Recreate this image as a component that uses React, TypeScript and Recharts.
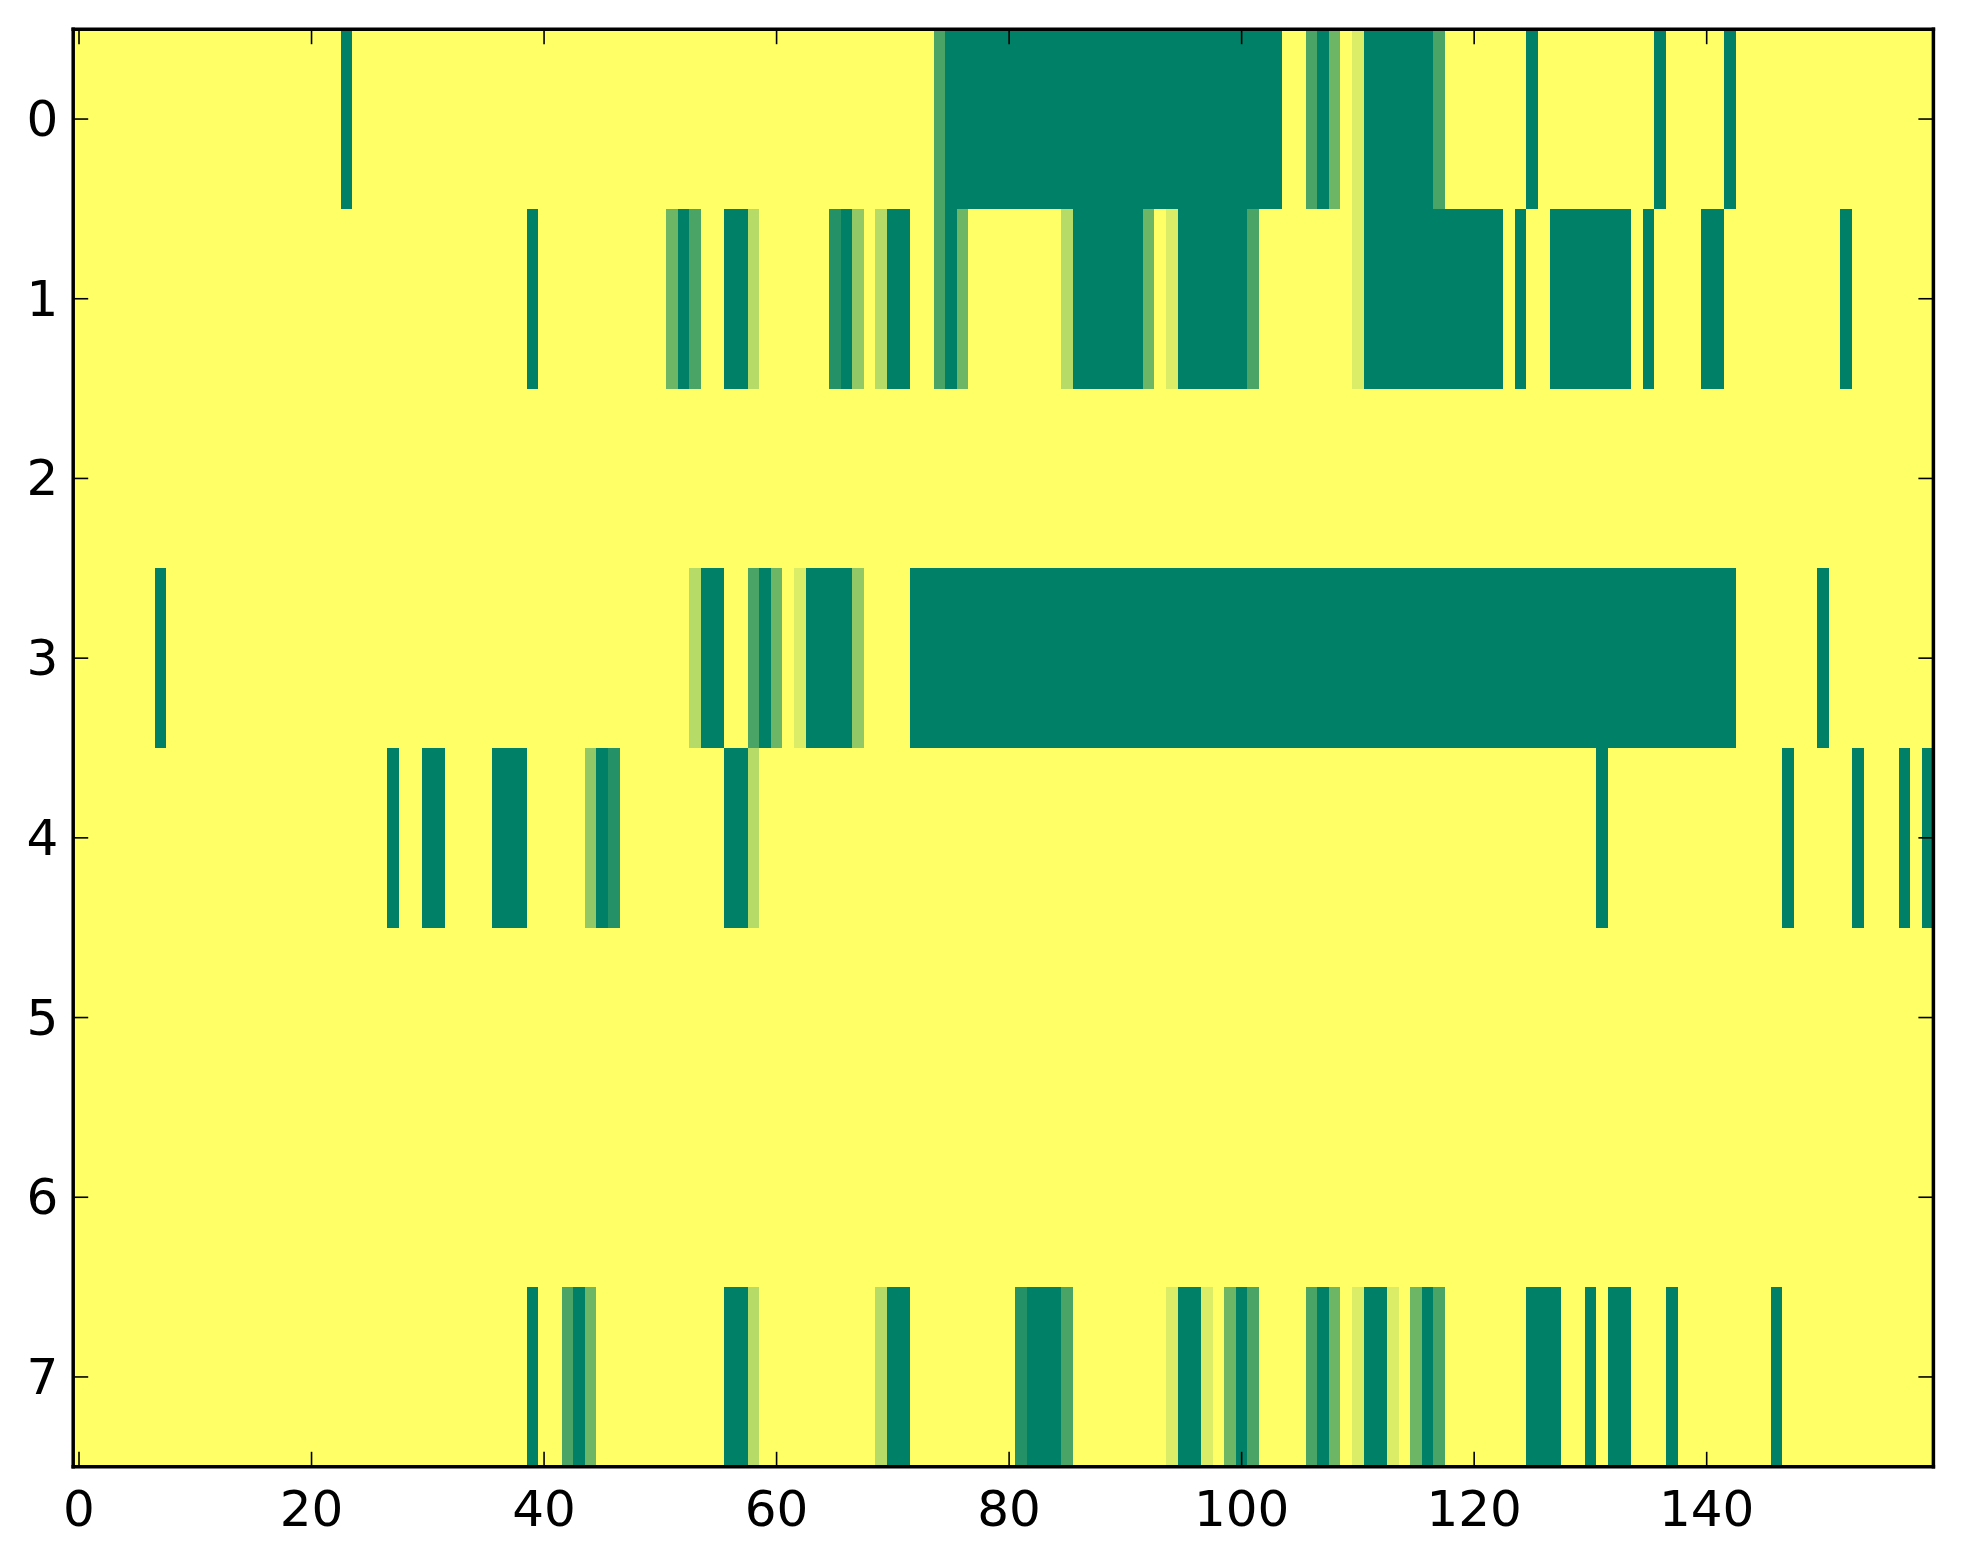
import React from "react";
import { ScatterChart, Scatter, XAxis, YAxis } from "recharts";

// heatmap: 8 rows x 160 columns, levels 0..7 (summer_r colormap)
type Run = [number, number, number]; // [firstCol, lastCol, level]

const N_COLS = 160;
const MAX_LEVEL = 7;
const X_TICKS = [0, 20, 40, 60, 80, 100, 120, 140];
const Y_TICKS = [0, 1, 2, 3, 4, 5, 6, 7];

const row0: Run[] = [
  [23, 23, 7], [74, 74, 5], [75, 103, 7], [106, 106, 5], [107, 107, 7], [108, 108, 4],
  [110, 110, 1], [111, 116, 7], [117, 117, 5], [125, 125, 7], [136, 136, 7], [142, 142, 7],
];
const row1: Run[] = [
  [39, 39, 7], [51, 51, 4], [52, 52, 7], [53, 53, 5], [56, 57, 7], [58, 58, 2],
  [65, 65, 6], [66, 66, 7], [67, 67, 3], [69, 69, 2], [70, 71, 7], [74, 74, 5],
  [75, 75, 7], [76, 76, 4], [85, 85, 2], [86, 91, 7], [92, 92, 4], [94, 94, 1],
  [95, 100, 7], [101, 101, 5], [110, 110, 1], [111, 122, 7], [124, 124, 7],
  [127, 133, 7], [135, 135, 7], [140, 141, 7], [152, 152, 7],
];
const row2: Run[] = [];
const row3: Run[] = [
  [7, 7, 7], [53, 53, 2], [54, 55, 7], [58, 58, 5], [59, 59, 7], [60, 60, 4],
  [62, 62, 1], [63, 66, 7], [67, 67, 3], [72, 142, 7], [150, 150, 7],
];
const row4: Run[] = [
  [27, 27, 7], [30, 31, 7], [36, 38, 7], [44, 44, 3], [45, 45, 7], [46, 46, 6],
  [56, 57, 7], [58, 58, 2], [131, 131, 7], [147, 147, 7], [153, 153, 7],
  [157, 157, 7], [159, 159, 7],
];
const row5: Run[] = [];
const row6: Run[] = [];
const row7: Run[] = [
  [39, 39, 7], [42, 42, 5], [43, 43, 7], [44, 44, 4], [56, 57, 7], [58, 58, 2],
  [69, 69, 2], [70, 71, 7], [81, 81, 6], [82, 84, 7], [85, 85, 5], [94, 94, 1],
  [95, 96, 7], [97, 97, 1], [99, 99, 4], [100, 100, 7], [101, 101, 5],
  [106, 106, 5], [107, 107, 7], [108, 108, 4], [110, 110, 1], [111, 112, 7],
  [113, 113, 1], [115, 115, 4], [116, 116, 7], [117, 117, 5], [125, 127, 7],
  [130, 130, 7], [132, 133, 7], [137, 137, 7], [146, 146, 7],
];

const rows = [row0, row1, row2, row3, row4, row5, row6, row7];

const cells = rows.flatMap((runs, r) => {
  const line = new Array(N_COLS).fill(0);
  runs.forEach(([a, b, lvl]) => {
    for (let c = a; c <= b; c++) line[c] = lvl;
  });
  return line.map((v, c) => ({ x: c, y: r, v }));
});

// layout (px)
const W = 1963;
const H = 1564;
const PLOT_LEFT = 73.2;
const PLOT_TOP = 29.2;
const PLOT_W = 1860.2;
const PLOT_H = 1437.6;
const CELL_W = PLOT_W / N_COLS;
const CELL_H = PLOT_H / rows.length;
const AXIS_BOX = 60;
const MIRROR_BOX = 10; // room for the top / right axes
const TICK_LEN = 15;
const FONT = "'DejaVu Sans', sans-serif";
const FONT_SIZE = 50;

const chartMargin = {
  top: PLOT_TOP - MIRROR_BOX,
  left: PLOT_LEFT - AXIS_BOX,
  right: W - PLOT_LEFT - PLOT_W - MIRROR_BOX,
  bottom: H - PLOT_TOP - PLOT_H - AXIS_BOX,
};
const X_DOMAIN: [number, number] = [-0.5, N_COLS - 0.5];
const Y_DOMAIN: [number, number] = [-0.5, rows.length - 0.5];

function summerR(level: number): string {
  const t = level / MAX_LEVEL;
  const r = Math.round((1 - t) * 255);
  const g = Math.round((1 - t / 2) * 255);
  const b = Math.round(0.4 * 255);
  return `rgb(${r},${g},${b})`;
}

const Cell = (props: any) => {
  const { cx, cy, payload } = props;
  if (cx == null || cy == null) return null;
  return (
    <rect
      x={cx - CELL_W / 2}
      y={cy - CELL_H / 2}
      width={CELL_W + 1}
      height={CELL_H + 1}
      fill={summerR(payload.v)}
      shapeRendering="crispEdges"
    />
  );
};

const NoMark = () => <g />;

const BottomTick = ({ x, y, payload }: any) => (
  <g>
    <line x1={x} x2={x} y1={y} y2={y - TICK_LEN} stroke="#000" strokeWidth={1.6} />
    <text x={x} y={y + 59} textAnchor="middle" fontSize={FONT_SIZE} fontFamily={FONT} fill="#000">
      {payload.value}
    </text>
  </g>
);

const TopTick = ({ x, y }: any) => (
  <line x1={x} x2={x} y1={y} y2={y + TICK_LEN} stroke="#000" strokeWidth={1.6} />
);

const LeftTick = ({ x, y, payload }: any) => (
  <g>
    <line x1={x} x2={x + TICK_LEN} y1={y} y2={y} stroke="#000" strokeWidth={1.6} />
    <text x={x - 15} y={y} textAnchor="end" dominantBaseline="central" fontSize={FONT_SIZE} fontFamily={FONT} fill="#000">
      {payload.value}
    </text>
  </g>
);

const RightTick = ({ x, y }: any) => (
  <line x1={x} x2={x - TICK_LEN} y1={y} y2={y} stroke="#000" strokeWidth={1.6} />
);

const frame = { stroke: "#000", strokeWidth: 3.5, strokeLinecap: "square" as const };

const axisCommon = {
  type: "number" as const,
  interval: 0 as const,
  allowDataOverflow: true,
  tickSize: 0,
  tickMargin: 0,
  tickLine: false,
};

export default function App() {
  return (
    <div style={{ position: "absolute", left: 0, top: 0, width: W, height: H, background: "#fff" }}>
      {/* cells */}
      <div style={{ position: "absolute", left: 0, top: 0 }}>
        <ScatterChart width={W} height={H} margin={chartMargin}>
          <XAxis {...axisCommon} dataKey="x" domain={X_DOMAIN} ticks={X_TICKS} height={AXIS_BOX} axisLine={false} tick={false} />
          <XAxis {...axisCommon} xAxisId="top" orientation="top" dataKey="x" domain={X_DOMAIN} ticks={X_TICKS} height={MIRROR_BOX} axisLine={false} tick={false} />
          <YAxis {...axisCommon} dataKey="y" domain={Y_DOMAIN} ticks={Y_TICKS} reversed width={AXIS_BOX} axisLine={false} tick={false} />
          <YAxis {...axisCommon} yAxisId="right" orientation="right" dataKey="y" domain={Y_DOMAIN} ticks={Y_TICKS} reversed width={MIRROR_BOX} axisLine={false} tick={false} />
          <Scatter data={cells} dataKey="v" shape={Cell} isAnimationActive={false} />
          <Scatter data={cells} dataKey="v" xAxisId="top" yAxisId="right" shape={NoMark} isAnimationActive={false} />
        </ScatterChart>
      </div>
      {/* frame, ticks and labels on top of the cells */}
      <div style={{ position: "absolute", left: 0, top: 0, pointerEvents: "none" }}>
        <ScatterChart width={W} height={H} margin={chartMargin}>
          <XAxis {...axisCommon} dataKey="x" domain={X_DOMAIN} ticks={X_TICKS} height={AXIS_BOX} axisLine={frame} tick={BottomTick} />
          <XAxis {...axisCommon} xAxisId="top" orientation="top" dataKey="x" domain={X_DOMAIN} ticks={X_TICKS} height={MIRROR_BOX} axisLine={frame} tick={TopTick} />
          <YAxis {...axisCommon} dataKey="y" domain={Y_DOMAIN} ticks={Y_TICKS} reversed width={AXIS_BOX} axisLine={frame} tick={LeftTick} />
          <YAxis {...axisCommon} yAxisId="right" orientation="right" dataKey="y" domain={Y_DOMAIN} ticks={Y_TICKS} reversed width={MIRROR_BOX} axisLine={frame} tick={RightTick} />
          <Scatter data={cells} dataKey="v" shape={NoMark} isAnimationActive={false} />
          <Scatter data={cells} dataKey="v" xAxisId="top" yAxisId="right" shape={NoMark} isAnimationActive={false} />
        </ScatterChart>
      </div>
    </div>
  );
}
